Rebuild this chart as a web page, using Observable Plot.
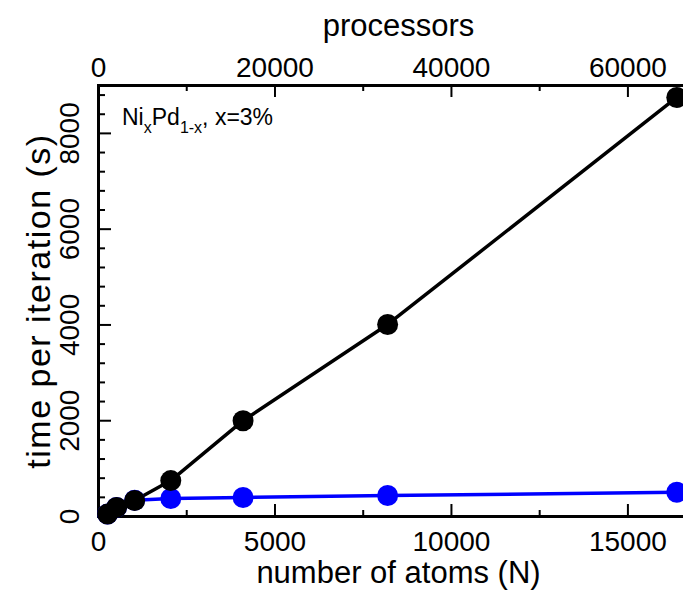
<!DOCTYPE html>
<html>
<head>
<meta charset="utf-8">
<script src="https://cdn.jsdelivr.net/npm/d3@7"></script>
<script src="https://cdn.jsdelivr.net/npm/@observablehq/plot@0.6"></script>
<style>
  html, body { margin: 0; padding: 0; overflow: hidden; background: #fff; }
  #chart { width: 683px; height: 594px; overflow: hidden; }
  #chart svg { max-width: none !important; }
</style>
</head>
<body>
<div id="chart"></div>
<script>
// ---- data ----
const atoms = [256, 512, 1024, 2048, 4096, 8192, 16384];
const timeBlack = [50, 190, 335, 750, 2000, 4010, 8750];
const timeBlue = [50, 190, 340, 376, 397, 438, 507];
const xTicksMajor = [0, 5000, 10000, 15000];
const xTicksMinor = [2500, 7500, 12500];
const procTicksMajor = [0, 20000, 40000, 60000];
const procTicksMinor = [10000, 30000, 50000];
const yTicksMajor = [0, 2000, 4000, 6000, 8000];
const yTicksMinor = [400, 800, 1200, 1600, 2400, 2800, 3200, 3600, 4400, 4800, 5200, 5600, 6400, 6800, 7200, 7600, 8400, 8800];

const black = atoms.map((n, i) => ({n, t: timeBlack[i]}));
const blue = atoms.map((n, i) => ({n, t: timeBlue[i]}));

const W = 700, H = 594;
const mL = 98, mR = 2, mT = 85, mB = 78;
const innerW = W - mL - mR, innerH = H - mT - mB;
const font = "'Liberation Sans', Arial, Helvetica, sans-serif";

const plot = Plot.plot({
  width: W, height: H,
  marginLeft: mL, marginRight: mR, marginTop: mT, marginBottom: mB,
  style: {fontFamily: font, background: "#fff", maxWidth: "none"},
  x: {domain: [0, 17000], axis: null},
  y: {domain: [0, 9000], axis: null},
  marks: [
    // ticks (inward)
    Plot.ruleX(xTicksMajor, {x: d => d, insetTop: innerH - 12, stroke: "black", strokeWidth: 2}),
    Plot.ruleX(xTicksMinor, {x: d => d, insetTop: innerH - 6, stroke: "black", strokeWidth: 2}),
    Plot.ruleX(procTicksMajor, {x: d => d / 4, insetBottom: innerH - 12, stroke: "black", strokeWidth: 2}),
    Plot.ruleX(procTicksMinor, {x: d => d / 4, insetBottom: innerH - 6, stroke: "black", strokeWidth: 2}),
    Plot.ruleY(yTicksMajor, {y: d => d, insetRight: innerW - 13, stroke: "black", strokeWidth: 2}),
    Plot.ruleY(yTicksMinor, {y: d => d, insetRight: innerW - 7, stroke: "black", strokeWidth: 2}),
    Plot.frame({stroke: "black", strokeWidth: 3}),
    // tick labels
    Plot.text(xTicksMajor, {x: d => d, text: d => String(d), frameAnchor: "bottom", lineAnchor: "top", dy: 15, fontSize: 28, fill: "black"}),
    Plot.text(procTicksMajor, {x: d => d / 4, text: d => String(d), frameAnchor: "top", lineAnchor: "bottom", dy: -9, fontSize: 28, fill: "black"}),
    Plot.text(yTicksMajor, {y: d => d, text: d => String(d), frameAnchor: "left", textAnchor: "middle", rotate: -90, lineAnchor: "bottom", dx: -20, fontSize: 28, fill: "black"}),
    // axis titles
    Plot.text(["number of atoms (N)"], {frameAnchor: "bottom", lineAnchor: "bottom", dy: 66, fontSize: 31, fill: "black"}),
    Plot.text(["processors"], {frameAnchor: "top", lineAnchor: "bottom", dy: -50, fontSize: 31, fill: "black"}),
    Plot.text(["time per iteration (s)"], {frameAnchor: "left", textAnchor: "middle", rotate: -90, lineAnchor: "middle", dx: -59, fontSize: 34, fill: "black"}),
    // data
    Plot.line(black, {x: "n", y: "t", stroke: "black", strokeWidth: 3.5}),
    Plot.line(blue, {x: "n", y: "t", stroke: "#0000ff", strokeWidth: 3.5}),
    Plot.dot(blue, {x: "n", y: "t", r: 10.5, fill: "#0000ff", stroke: "none"}),
    Plot.dot(black, {x: "n", y: "t", r: 10.5, fill: "black", stroke: "none"})
  ]
});

// y title letter spacing
d3.select(plot).selectAll("text").filter(function() { return this.textContent === "time per iteration (s)"; })
  .attr("letter-spacing", "1.5px");

// annotation with subscripts
const svg = d3.select(plot);
const t = svg.append("text")
  .attr("x", 122).attr("y", 125)
  .attr("text-anchor", "start")
  .attr("font-family", font)
  .attr("font-size", 23)
  .attr("fill", "black");
t.append("tspan").text("Ni");
t.append("tspan").attr("font-size", 16).attr("dy", 8).text("x");
t.append("tspan").attr("dy", -8).text("Pd");
t.append("tspan").attr("font-size", 16).attr("dy", 8).text("1-x");
t.append("tspan").attr("dy", -8).text(", x=3%");

document.getElementById("chart").appendChild(plot);
</script>
</body>
</html>
